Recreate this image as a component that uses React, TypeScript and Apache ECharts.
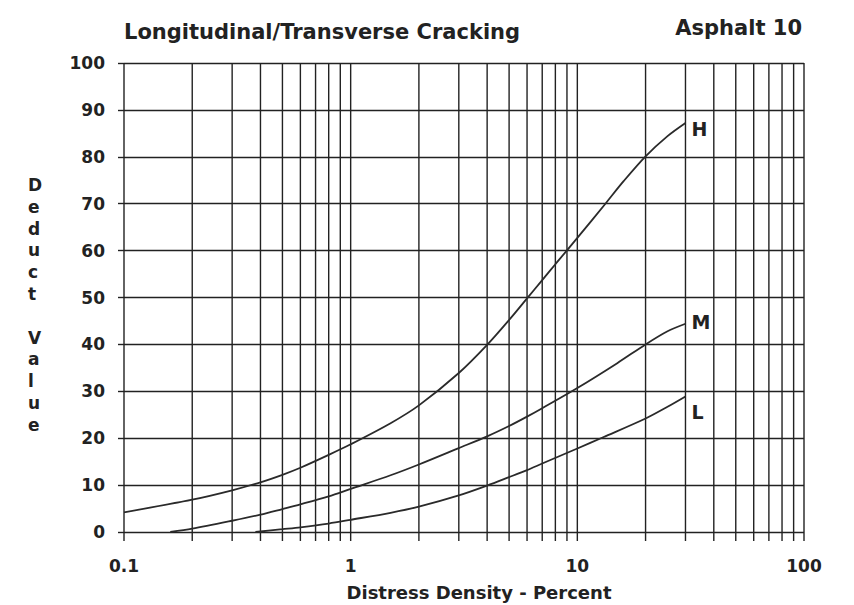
import React, { useEffect, useRef } from "react";
import * as echarts from "echarts";

const xTickLabels = ["0.1", "1", "10", "100"];
const yTicks = [0, 10, 20, 30, 40, 50, 60, 70, 80, 90, 100];
const gridX = [
  0.1, 0.2, 0.3, 0.4, 0.5, 0.6, 0.7, 0.8, 0.9,
  1, 2, 3, 4, 5, 6, 7, 8, 9,
  10, 20, 30, 40, 50, 60, 70, 80, 90, 100,
];

const seriesNames = ["H", "M", "L"];
const highX = [0.1, 0.2, 0.3, 0.4, 0.5, 0.6, 0.8, 1, 1.5, 2, 3, 4, 5, 6, 7, 8, 10, 13.3, 16, 20, 25, 30];
const highY = [4.2, 6.9, 8.9, 10.6, 12.2, 13.7, 16.45, 18.7, 23.2, 27, 33.9, 39.9, 45.2, 49.8, 53.7, 57.1, 62.7, 70, 74.8, 80.1, 84.4, 87.2];
const medX = [0.16, 0.2, 0.3, 0.4, 0.5, 0.6, 0.8, 1, 1.5, 2, 3, 4, 5, 6, 7, 10, 15, 20, 25, 30];
const medY = [0, 0.7, 2.4, 3.7, 4.9, 5.9, 7.6, 9.2, 12.1, 14.4, 17.9, 20.4, 22.6, 24.6, 26.4, 30.7, 36, 40, 42.8, 44.4];
const lowX = [0.38, 0.5, 0.6, 0.8, 1, 1.5, 2, 3, 4, 5, 6, 7, 10, 13, 20, 25, 30];
const lowY = [0, 0.6, 1.0, 1.8, 2.6, 4.1, 5.4, 7.8, 9.9, 11.7, 13.2, 14.6, 17.8, 20.2, 24.2, 26.7, 28.9];

const zip = (xs: number[], ys: number[]) => xs.map((x, i) => [x, ys[i]]);

export default function App() {
  const ref = useRef<HTMLDivElement>(null);
  useEffect(() => {
    document.body.style.margin = "0";
    const chart = echarts.init(ref.current!, null, { renderer: "svg" });
    const font = "'DejaVu Sans', 'Liberation Sans', Arial, sans-serif";
    const ink = "#222";
    const curve = (name: string, data: number[][], offset: number[]) => ({
      type: "line",
      name,
      data,
      smooth: 0.3,
      showSymbol: false,
      symbol: "none",
      lineStyle: { color: "#2a2a2a", width: 1.8 },
      z: 5,
      endLabel: {
        show: true,
        formatter: name,
        fontFamily: font,
        fontWeight: "bold",
        fontSize: 19,
        color: ink,
        distance: 6,
        offset,
      },
    });
    chart.setOption({
      animation: false,
      backgroundColor: "#fff",
      grid: { left: 124, right: 50, top: 63, bottom: 73, containLabel: false, outerBoundsMode: "none" },
      title: {
        text: "Longitudinal/Transverse Cracking",
        left: 119,
        top: 16,
        textStyle: { fontFamily: font, fontWeight: "bold", fontSize: 21, color: ink },
      },
      graphic: [
        {
          type: "text",
          right: 52,
          top: 17,
          style: { text: "Asphalt 10", fontFamily: font, fontWeight: "bold", fontSize: 21, fill: ink },
        },
        {
          type: "text",
          left: 28,
          top: 174,
          style: {
            text: "D\ne\nd\nu\nc\nt\n\nV\na\nl\nu\ne",
            fontFamily: font,
            fontWeight: "bold",
            fontSize: 17,
            lineHeight: 21.8,
            align: "center",
            fill: ink,
          },
        },
      ],
      xAxis: {
        type: "log",
        logBase: 10,
        min: 0.1,
        max: 100,
        name: "Distress Density - Percent",
        nameLocation: "middle",
        nameGap: 51,
        nameTextStyle: {
          fontFamily: font,
          fontWeight: "bold",
          fontSize: 18,
          color: ink,
          padding: [0, 0, 0, 30],
        },
        axisLine: { show: false },
        axisTick: { show: false },
        splitLine: { show: false },
        axisLabel: {
          margin: 25,
          fontFamily: font,
          fontWeight: "bold",
          fontSize: 17,
          color: ink,
          formatter: (v: number) => {
            const i = Math.round(Math.log10(v)) + 1;
            return xTickLabels[i] ?? "";
          },
        },
      },
      yAxis: {
        type: "value",
        min: 0,
        max: 100,
        interval: 10,
        axisLine: { show: false },
        axisTick: { show: true, length: 6, lineStyle: { color: ink, width: 1.4 } },
        splitLine: { show: true, lineStyle: { color: ink, width: 1.4 } },
        axisLabel: {
          margin: 19,
          fontFamily: font,
          fontWeight: "bold",
          fontSize: 17,
          color: ink,
          formatter: (v: number) => (yTicks.includes(v) ? String(v) : ""),
        },
      },
      series: [
        {
          type: "custom",
          data: gridX.map((x) => [x, 0]),
          encode: { x: 0, y: 1 },
          clip: false,
          silent: true,
          z: 1,
          renderItem: (params: any, api: any) => {
            const x = api.value(0);
            const top = api.coord([x, 100]);
            const bot = api.coord([x, 0]);
            return {
              type: "line",
              shape: { x1: top[0], y1: top[1], x2: bot[0], y2: bot[1] + 9 },
              style: { stroke: ink, lineWidth: 1.4 },
            };
          },
        },
        curve(seriesNames[0], zip(highX, highY), [0, 6]),
        curve(seriesNames[1], zip(medX, medY), [0, -2]),
        curve(seriesNames[2], zip(lowX, lowY), [0, 16]),
      ],
    });
    return () => chart.dispose();
  }, []);
  return <div ref={ref} style={{ width: 854, height: 605 }} />;
}
